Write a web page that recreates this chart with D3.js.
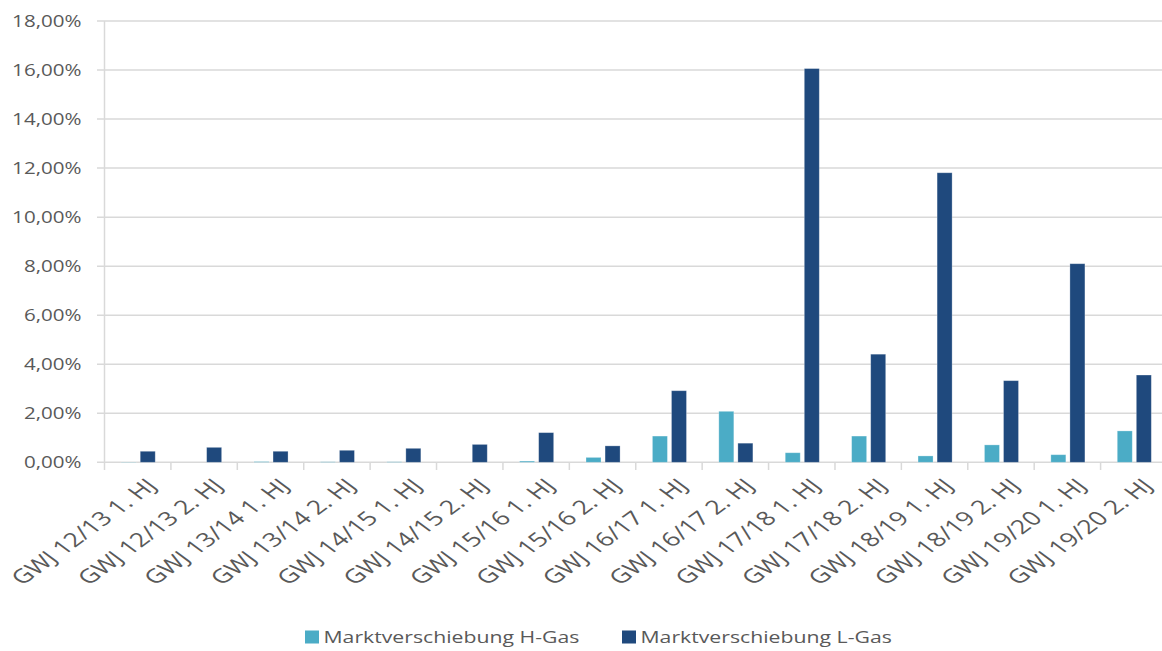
<!DOCTYPE html>
<html>
<head>
<meta charset="utf-8">
<script src="https://cdn.jsdelivr.net/npm/d3@7"></script>
<style>
  html, body { margin: 0; padding: 0; background: #fff; }
  svg { display: block; font-family: "Open Sans", "Noto Sans", sans-serif; }
</style>
</head>
<body>
<svg id="chart" width="1162" height="651"></svg>
<script>
// Half-year periods (Gaswirtschaftsjahr)
const categories = [
  "GWJ 12/13 1. HJ", "GWJ 12/13 2. HJ", "GWJ 13/14 1. HJ", "GWJ 13/14 2. HJ",
  "GWJ 14/15 1. HJ", "GWJ 14/15 2. HJ", "GWJ 15/16 1. HJ", "GWJ 15/16 2. HJ",
  "GWJ 16/17 1. HJ", "GWJ 16/17 2. HJ", "GWJ 17/18 1. HJ", "GWJ 17/18 2. HJ",
  "GWJ 18/19 1. HJ", "GWJ 18/19 2. HJ", "GWJ 19/20 1. HJ", "GWJ 19/20 2. HJ"
];
// Market shift in percent
const hGas = [0.01, 0.00, 0.03, 0.02, 0.02, 0.00, 0.05, 0.20, 1.07, 2.08, 0.39, 1.07, 0.26, 0.71, 0.31, 1.28];
const lGas = [0.45, 0.61, 0.45, 0.49, 0.57, 0.73, 1.21, 0.67, 2.92, 0.78, 16.06, 4.41, 11.81, 3.33, 8.10, 3.56];
const yTicks = [0, 2, 4, 6, 8, 10, 12, 14, 16, 18];
const seriesNames = ["Marktverschiebung H-Gas", "Marktverschiebung L-Gas"];
const seriesColors = ["#4BACC6", "#1F497D"];

const svg = d3.select("#chart");
const textColor = "#595959";
const gridColor = "#d9d9d9";
// text in this chart is drawn horizontally widened
const sxAxis = 1.24, sx = 1.37;

const x = d3.scaleBand().domain(categories).range([104.5, 1167]).padding(0);
const y = d3.scaleLinear().domain([0, 18]).range([462.3, 21]);

const fmt = v => d3.format(".2f")(v).replace(".", ",") + "%";

// Horizontal gridlines
svg.append("g").selectAll("line").data(yTicks).join("line")
  .attr("x1", 97).attr("x2", 1167)
  .attr("y1", d => y(d)).attr("y2", d => y(d))
  .attr("stroke", gridColor).attr("stroke-width", 1.5);

// Vertical axis line
svg.append("line")
  .attr("x1", 104.5).attr("x2", 104.5)
  .attr("y1", y(18)).attr("y2", 470)
  .attr("stroke", gridColor).attr("stroke-width", 1.5);

// Category separator ticks below the baseline
svg.append("g").selectAll("line").data(categories).join("line")
  .attr("x1", d => x(d) + x.bandwidth())
  .attr("x2", d => x(d) + x.bandwidth())
  .attr("y1", y(0)).attr("y2", 470)
  .attr("stroke", gridColor).attr("stroke-width", 1.5);

// Y tick labels
svg.append("g").selectAll("text").data(yTicks).join("text")
  .attr("transform", d => `translate(81.5,${y(d)}) scale(${sxAxis},1)`)
  .attr("dy", "0.36em")
  .attr("text-anchor", "end")
  .attr("fill", textColor).attr("font-size", 16.6)
  .text(fmt);

// Bars
const bw = x.bandwidth() * 0.226;
const offsets = [0.364, 0.651];
[hGas, lGas].forEach((vals, s) => {
  svg.append("g").selectAll("rect").data(vals).join("rect")
    .attr("x", (d, i) => x(categories[i]) + x.bandwidth() * offsets[s] - bw / 2)
    .attr("width", bw)
    .attr("y", d => y(d))
    .attr("height", d => y(0) - y(d))
    .attr("fill", seriesColors[s])
    .attr("stroke", "#ffffff").attr("stroke-opacity", 0.35).attr("stroke-width", 0.8);
});

// X tick labels, rotated
svg.append("g").selectAll("text").data(categories).join("text")
  .attr("transform", d => `translate(${x(d) + x.bandwidth() / 2 + 7},${477}) scale(${sx},1) rotate(-45)`)
  .attr("text-anchor", "end")
  .attr("dy", "0.72em")
  .attr("fill", textColor).attr("font-size", 19.5)
  .text(d => d);

// Legend
const legendX = [305, 622];
const lg = svg.append("g").selectAll("g").data(seriesNames).join("g")
  .attr("transform", (d, i) => `translate(${legendX[i]},630.5)`);
lg.append("rect").attr("width", 14).attr("height", 13)
  .attr("fill", (d, i) => seriesColors[i]);
lg.append("text")
  .attr("transform", `translate(18.5,6.5) scale(${sx},1)`)
  .attr("dy", "0.36em")
  .attr("fill", textColor).attr("font-size", 15.5)
  .text(d => d);
</script>
</body>
</html>
